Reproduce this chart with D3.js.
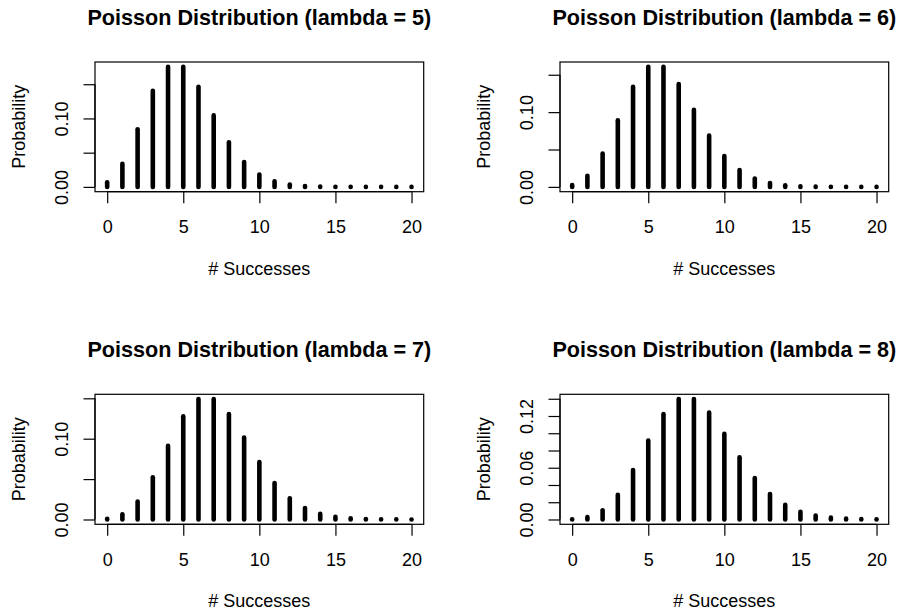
<!DOCTYPE html>
<html>
<head>
<meta charset="utf-8">
<script src="https://cdn.jsdelivr.net/npm/d3@7"></script>
<style>
  html, body { margin: 0; padding: 0; background: #fff; }
  svg { display: block; font-family: "Liberation Sans", Arial, Helvetica, sans-serif; }
</style>
</head>
<body>
<svg id="chart" width="901" height="612"></svg>
<script>
// Number of successes, k = 0..20
const successes = [0,1,2,3,4,5,6,7,8,9,10,11,12,13,14,15,16,17,18,19,20];

// Poisson probabilities P(X = k) for each lambda
const probLambda5 = [0.006738,0.033690,0.084224,0.140374,0.175467,0.175467,0.146223,0.104445,0.065278,0.036266,0.018133,0.008242,0.003434,0.001321,0.000472,0.000157,0.000049,0.000014,0.000004,0.000001,0.0000003];
const probLambda6 = [0.002479,0.014873,0.044618,0.089235,0.133853,0.160623,0.160623,0.137677,0.103258,0.068838,0.041303,0.022529,0.011264,0.005199,0.002228,0.000891,0.000334,0.000118,0.000039,0.000012,0.000004];
const probLambda7 = [0.000912,0.006383,0.022341,0.052129,0.091226,0.127717,0.149003,0.149003,0.130377,0.101405,0.070983,0.045171,0.026350,0.014188,0.007094,0.003311,0.001448,0.000596,0.000232,0.000085,0.000030];
const probLambda8 = [0.000335,0.002684,0.010735,0.028626,0.057252,0.091604,0.122138,0.139587,0.139587,0.124077,0.099262,0.072190,0.048127,0.029616,0.016924,0.009026,0.004513,0.002124,0.000944,0.000397,0.000159];

const lambdas = [5, 6, 7, 8];
const titles = lambdas.map(l => `Poisson Distribution (lambda = ${l})`);

// Axis ticks
const xTicks = [0, 5, 10, 15, 20];
const yTicksA = [0, 0.05, 0.10, 0.15];
const yLabelsA = [0, 0.10];
const yTicksB = [0, 0.02, 0.04, 0.06, 0.08, 0.10, 0.12, 0.14];
const yLabelsB = [0, 0.06, 0.12];

const xLabel = "# Successes";
const yLabel = "Probability";

// Plot region of each panel (left, right, top, bottom)
const boxes = [
  { left: 95,  right: 423.7, top: 62,    bottom: 191.7 },
  { left: 560, right: 888.7, top: 62,    bottom: 191.7 },
  { left: 95,  right: 423.7, top: 394.3, bottom: 524.3 },
  { left: 560, right: 888.7, top: 394.3, bottom: 524.3 }
];

const panels = [
  { probs: probLambda5, title: titles[0], yTicks: yTicksA, yLabels: yLabelsA },
  { probs: probLambda6, title: titles[1], yTicks: yTicksA, yLabels: yLabelsA },
  { probs: probLambda7, title: titles[2], yTicks: yTicksA, yLabels: yLabelsA },
  { probs: probLambda8, title: titles[3], yTicks: yTicksB, yLabels: yLabelsB }
];

const svg = d3.select("#chart");
const fmt = d3.format(".2f");
const tickLen = 11.5;

panels.forEach((p, i) => {
  const b = boxes[i];
  const g = svg.append("g");

  // Axis ranges padded by 4% on each side
  const xMin = d3.min(successes), xMax = d3.max(successes);
  const xPad = (xMax - xMin) * 0.04;
  const x = d3.scaleLinear().domain([xMin - xPad, xMax + xPad]).range([b.left, b.right]);

  const yMax = d3.max(p.probs), yMin = 0;
  const yPad = (yMax - yMin) * 0.04;
  const y = d3.scaleLinear().domain([yMin - yPad, yMax + yPad]).range([b.bottom, b.top]);

  // Vertical probability lines
  g.selectAll("line.spike")
    .data(successes)
    .join("line")
    .attr("class", "spike")
    .attr("x1", k => x(k)).attr("x2", k => x(k))
    .attr("y1", y(0)).attr("y2", (k, j) => y(p.probs[j]))
    .attr("stroke", "#000")
    .attr("stroke-width", 4.6)
    .attr("stroke-linecap", "round");

  // Frame
  g.append("rect")
    .attr("x", b.left).attr("y", b.top)
    .attr("width", b.right - b.left).attr("height", b.bottom - b.top)
    .attr("fill", "none").attr("stroke", "#000").attr("stroke-width", 1.2);

  // X axis
  const xAxis = d3.axisBottom(x).tickValues(xTicks).tickSize(tickLen).tickPadding(17).tickFormat(d3.format("d"));
  const xg = g.append("g").attr("transform", `translate(0,${b.bottom})`).call(xAxis);
  xg.select(".domain")
    .attr("d", `M${x(xTicks[0])},0H${x(xTicks[xTicks.length - 1])}`)
    .attr("stroke-width", 1.2);
  xg.selectAll(".tick line").attr("stroke-width", 1.2);
  xg.selectAll(".tick text")
    .attr("font-size", 18).attr("font-family", null).attr("fill", "#000");

  // Y axis
  const yAxis = d3.axisLeft(y).tickValues(p.yTicks).tickSize(tickLen)
    .tickFormat(d => p.yLabels.some(v => Math.abs(v - d) < 1e-9) ? fmt(d) : "");
  const yg = g.append("g").attr("transform", `translate(${b.left},0)`).call(yAxis);
  yg.select(".domain")
    .attr("d", `M0,${y(p.yTicks[0])}V${y(p.yTicks[p.yTicks.length - 1])}`)
    .attr("stroke-width", 1.2);
  yg.selectAll(".tick line").attr("stroke-width", 1.2);
  yg.selectAll(".tick text")
    .attr("font-size", 18).attr("font-family", null).attr("fill", "#000")
    .attr("x", null).attr("dy", null)
    .attr("text-anchor", "middle")
    .attr("transform", "translate(-27,0) rotate(-90)");

  // Title
  g.append("text")
    .attr("x", (b.left + b.right) / 2)
    .attr("y", b.top - 37)
    .attr("text-anchor", "middle")
    .attr("font-size", 21.6).attr("font-weight", "bold")
    .text(p.title);

  // Axis titles
  g.append("text")
    .attr("x", (b.left + b.right) / 2)
    .attr("y", b.bottom + 83)
    .attr("text-anchor", "middle")
    .attr("font-size", 18)
    .text(xLabel);

  g.append("text")
    .attr("transform", `translate(${b.left - 70},${(b.top + b.bottom) / 2}) rotate(-90)`)
    .attr("text-anchor", "middle")
    .attr("font-size", 18)
    .text(yLabel);
});
</script>
</body>
</html>
